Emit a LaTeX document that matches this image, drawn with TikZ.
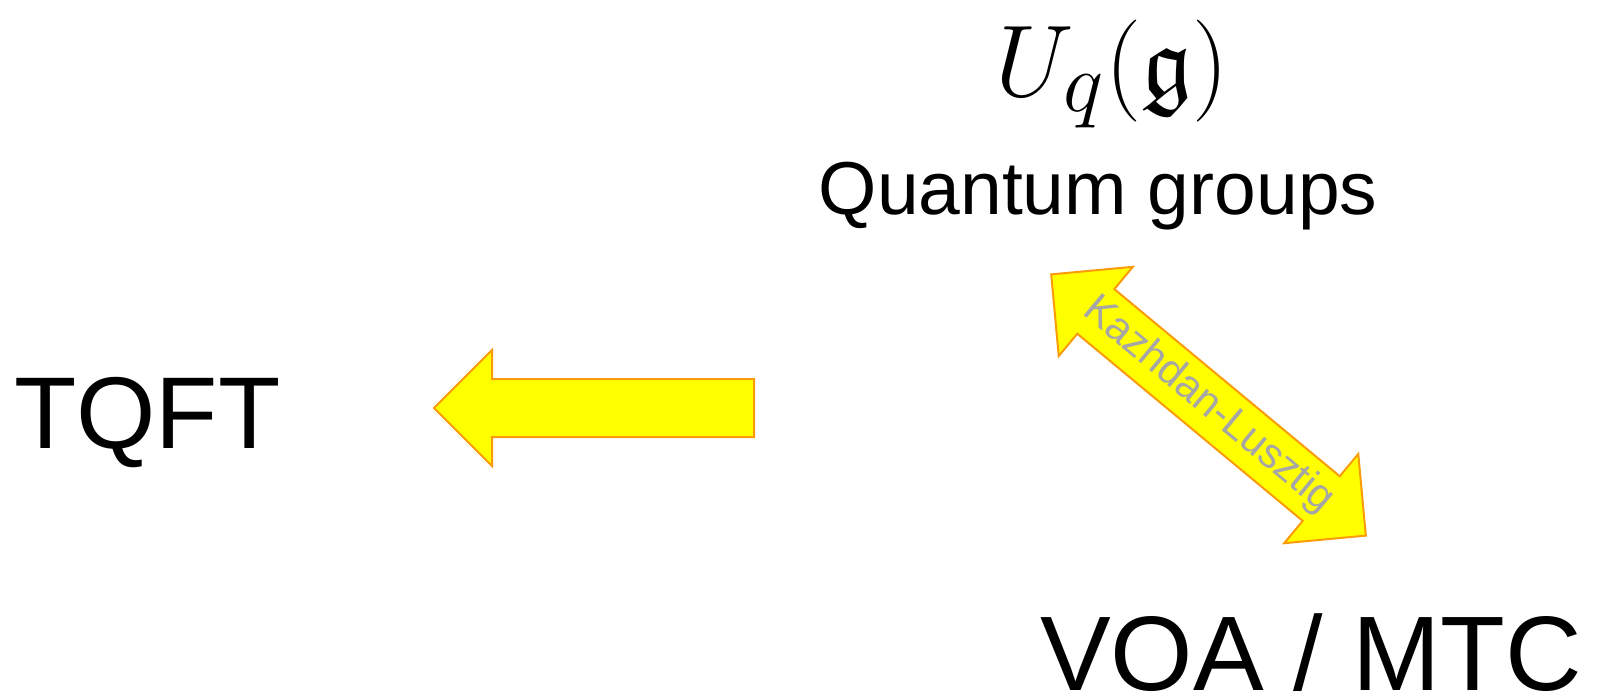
\documentclass[tikz,border=0pt]{standalone}
\usepackage{amsmath,amssymb}
\usepackage{fontspec}
\setmainfont{Liberation Sans}
\usepackage{tikz}
\usetikzlibrary{positioning,shapes.arrows}

\definecolor{arrowfill}{RGB}{255,255,0}
\definecolor{arrowedge}{RGB}{250,155,10}
\definecolor{klgray}{RGB}{166,166,166}

\begin{document}
\begin{tikzpicture}[
    x=1pt, y=-1pt,
    every node/.style={inner sep=0pt, outer sep=0pt, text=black},
    bigtext/.style={font=\fontsize{104}{110}\selectfont},
    midtext/.style={font=\fontsize{75}{80}\selectfont},
    fatarrow/.style={draw=arrowedge, fill=arrowfill, line width=2pt, inner sep=0pt, inner ysep=28pt, minimum width=0pt},
    kllabel/.style={font=\fontsize{42}{44}\selectfont, text=klgray}
]
\useasboundingbox (0,0) rectangle (1598,697);

% Objects
\node[bigtext, anchor=base west, font=\fontsize{102}{110}\selectfont] (tqft) at (14,448) {TQFT};
\node[midtext, anchor=base] (qgroups) at (1098,214) {Quantum groups};
\node[anchor=base, font=\Huge, scale=4.1] (uqg) at (1112,96) {$U_q(\mathfrak{g})$};
\node[bigtext, anchor=base west, font=\fontsize{106}{110}\selectfont] (voamtc) at (1040,690) {VOA / MTC};

% Arrows
\node[fatarrow, single arrow, shape border rotate=180, single arrow head extend=29pt,
      minimum height=320pt, anchor=tip] (toTQFT) at (434,408) {};
\node[fatarrow, double arrow, rotate=-39.7, double arrow head extend=29pt,
      minimum height=409pt] (kl) at (1208.5,405) {};
\node[kllabel, rotate=-39.7] (kltext) at (kl.center) {Kazhdan-Lusztig};

\end{tikzpicture}
\end{document}
